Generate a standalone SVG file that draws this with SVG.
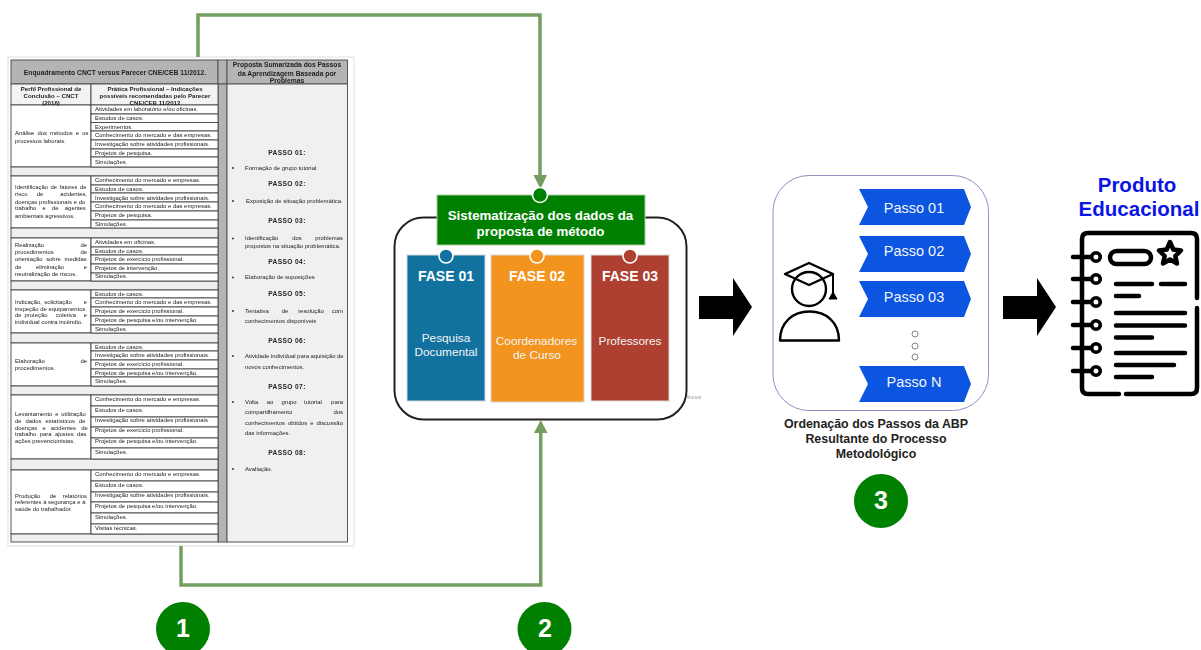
<svg xmlns="http://www.w3.org/2000/svg" width="1201" height="650" viewBox="0 0 1201 650">
<style>
text{font-family:"Liberation Sans",Arial,sans-serif}
.c{text-anchor:middle}.e{text-anchor:end}
.t{font-size:5.9px;fill:#222}
.tb{font-size:6.75px;font-weight:bold;fill:#222}
.sh{font-size:6.1px;font-weight:bold;fill:#222}
.ps{font-size:6.6px;font-weight:bold;fill:#222;letter-spacing:.4px;text-anchor:middle}
.r{font-size:5.95px;fill:#222}
.cell{fill:#fff;stroke:#444;stroke-width:.9}
.gap{fill:#efefef;stroke:#444;stroke-width:.9}
.hd{fill:#b4b4b4;stroke:#555;stroke-width:1}
.conn{fill:none;stroke:#739e5f;stroke-width:3.500}
.ah{fill:#739e5f}
.bk{fill:#000}
.num{fill:#008000}
.numt{fill:#fff;font-size:25px;font-weight:bold;text-anchor:middle}
.ph{stroke:#d8d8d8;stroke-width:1}
.pht{fill:#fff;font-size:14px;font-weight:bold;text-anchor:middle}
.phs{fill:#f4f4f4;font-size:11.8px;text-anchor:middle}
.dot{stroke:#fff;stroke-width:1.6}
.ch{fill:#0b55e0}
.cht{fill:#f4f6ff;font-size:14.500px;text-anchor:middle}
.ic{fill:none;stroke:#000;stroke-linecap:round;stroke-linejoin:round}
.cap{font-size:12.4px;font-weight:bold;fill:#222;text-anchor:middle}
.pr{font-size:20.5px;font-weight:bold;fill:#0a14e6;text-anchor:middle}
</style>
<defs>
<filter id="soft" x="-2%" y="-2%" width="104%" height="104%"><feGaussianBlur stdDeviation="0.55"/></filter>
<polygon id="blockarrow" points="0,18 34,18 34,0 53,29 34,58 34,41 0,41"/>
<polygon id="chev" points="0,0 105,0 112,18 105,36 0,36 9,18"/>
</defs>

<g id="table" filter="url(#soft)">
<rect x="8" y="57" width="346" height="489" fill="#fff" stroke="#ddd"/>
<rect class="hd" x="11" y="60" width="207" height="24"/>
<rect class="hd" x="218" y="60" width="9" height="24"/>
<rect class="hd" x="227" y="60" width="120.500" height="24"/>
<rect x="218" y="84" width="9" height="458" fill="#b4b4b4" stroke="#555"/>
<rect x="227" y="84" width="120.500" height="458" fill="#f0f0f0" stroke="#555"/>
<rect x="11" y="84" width="80" height="21" fill="#f3f3f3" stroke="#444" stroke-width=".9"/>
<rect x="91" y="84" width="127" height="21" fill="#f3f3f3" stroke="#444" stroke-width=".9"/>
<rect class="cell" x="11" y="105" width="80" height="62"/>
<rect class="gap" x="11" y="167" width="207" height="9"/>
<rect class="cell" x="11" y="176" width="80" height="52"/>
<rect class="gap" x="11" y="228" width="207" height="10"/>
<rect class="cell" x="11" y="238" width="80" height="43"/>
<rect class="gap" x="11" y="281" width="207" height="9"/>
<rect class="cell" x="11" y="290" width="80" height="43"/>
<rect class="gap" x="11" y="333" width="207" height="10"/>
<rect class="cell" x="11" y="343" width="80" height="43"/>
<rect class="gap" x="11" y="386" width="207" height="9"/>
<rect class="cell" x="11" y="395" width="80" height="64"/>
<rect class="gap" x="11" y="459" width="207" height="11"/>
<rect class="cell" x="11" y="470" width="80" height="64"/>
<rect class="gap" x="11" y="534" width="207" height="8"/>
<rect class="cell" x="91" y="105" width="127" height="9"/><rect class="cell" x="91" y="114" width="127" height="8.500"/><rect class="cell" x="91" y="122.500" width="127" height="8.500"/><rect class="cell" x="91" y="131" width="127" height="9"/><rect class="cell" x="91" y="140" width="127" height="9"/><rect class="cell" x="91" y="149" width="127" height="8"/><rect class="cell" x="91" y="157" width="127" height="10"/>
<rect class="cell" x="91" y="176" width="127" height="9"/><rect class="cell" x="91" y="185" width="127" height="8"/><rect class="cell" x="91" y="193" width="127" height="9"/><rect class="cell" x="91" y="202" width="127" height="9"/><rect class="cell" x="91" y="211" width="127" height="9"/><rect class="cell" x="91" y="220" width="127" height="8"/>
<rect class="cell" x="91" y="238" width="127" height="9"/><rect class="cell" x="91" y="247" width="127" height="8"/><rect class="cell" x="91" y="255" width="127" height="9"/><rect class="cell" x="91" y="264" width="127" height="9"/><rect class="cell" x="91" y="273" width="127" height="8"/>
<rect class="cell" x="91" y="290" width="127" height="8"/><rect class="cell" x="91" y="298" width="127" height="9"/><rect class="cell" x="91" y="307" width="127" height="9"/><rect class="cell" x="91" y="316" width="127" height="9"/><rect class="cell" x="91" y="325" width="127" height="8"/>
<rect class="cell" x="91" y="343" width="127" height="8"/><rect class="cell" x="91" y="351" width="127" height="9"/><rect class="cell" x="91" y="360" width="127" height="9"/><rect class="cell" x="91" y="369" width="127" height="8"/><rect class="cell" x="91" y="377" width="127" height="9"/>
<rect class="cell" x="91" y="395" width="127" height="11"/><rect class="cell" x="91" y="406" width="127" height="11"/><rect class="cell" x="91" y="417" width="127" height="10"/><rect class="cell" x="91" y="427" width="127" height="11"/><rect class="cell" x="91" y="438" width="127" height="10"/><rect class="cell" x="91" y="448" width="127" height="11"/>
<rect class="cell" x="91" y="470" width="127" height="11"/><rect class="cell" x="91" y="481" width="127" height="11"/><rect class="cell" x="91" y="492" width="127" height="10"/><rect class="cell" x="91" y="502" width="127" height="11"/><rect class="cell" x="91" y="513" width="127" height="11"/><rect class="cell" x="91" y="524" width="127" height="10"/>

<text class="tb c" x="115" y="75">Enquadramento CNCT versus Parecer CNE/CEB 11/2012.</text>
<text class="tb c" x="287" y="67">Proposta Sumarizada dos Passos</text>
<text class="tb c" x="287" y="75.500">da Aprendizagem Baseada por</text>
<text class="tb c" x="287" y="83">Problemas</text>
<text class="sh c" x="51" y="90.500">Perfil Profissional de</text>
<text class="sh c" x="51" y="97.500">Conclusão – CNCT</text>
<text class="sh c" x="51" y="104.500">(2016)</text>
<text class="sh c" x="155" y="90.500">Prática Profissional – Indicações</text>
<text class="sh c" x="155" y="97.500">possíveis recomendadas pelo Parecer</text>
<text class="sh c" x="155" y="104.500">CNE/CEB 11/2012</text>

<text class="t" x="15" y="135" word-spacing="1.500">Análise dos métodos e os</text>
<text class="t" x="15" y="142.500">processos laborais.</text>
<text class="t" x="15" y="189" word-spacing=".8">Identificação de fatores de</text>
<text class="t" x="15" y="196">risco</text><text class="t c" x="40" y="196">de</text><text class="t e" x="87" y="196">acidentes,</text>
<text class="t" x="15" y="203.500" word-spacing=".2">doenças profissionais e do</text>
<text class="t" x="15" y="210" word-spacing="4.600">trabalho e de agentes</text>
<text class="t" x="15" y="217.500">ambientais agressivos.</text>
<text class="t" x="15" y="247">Realização</text><text class="t e" x="87" y="247">de</text>
<text class="t" x="15" y="253.500">procedimentos</text><text class="t e" x="87" y="253.500">de</text>
<text class="t" x="15" y="261" word-spacing="2">orientação sobre medidas</text>
<text class="t" x="15" y="268.500">de</text><text class="t c" x="50" y="268.500">eliminação</text><text class="t e" x="87" y="268.500">e</text>
<text class="t" x="15" y="276">neutralização de riscos.</text>
<text class="t" x="15" y="303.500">Indicação,</text><text class="t c" x="58" y="303.500">solicitação</text><text class="t e" x="87" y="303.500">e</text>
<text class="t" x="15" y="310.500">inspeção de equipamentos</text>
<text class="t" x="15" y="317">de</text><text class="t c" x="36" y="317">proteção</text><text class="t c" x="66" y="317">coletiva</text><text class="t e" x="87" y="317">e</text>
<text class="t" x="15" y="324">individual contra incêndio.</text>
<text class="t" x="15" y="362.500">Elaboração</text><text class="t e" x="87" y="362.500">de</text>
<text class="t" x="15" y="369.500">procedimentos.</text>
<text class="t" x="15" y="416" word-spacing="1.200">Levantamento e utilização</text>
<text class="t" x="15" y="422.500" word-spacing="2.300">de dados estatísticos de</text>
<text class="t" x="15" y="429.500" word-spacing="3.500">doenças e acidentes de</text>
<text class="t" x="15" y="436" word-spacing="1.800">trabalho para ajustes das</text>
<text class="t" x="15" y="443">ações prevencionistas.</text>
<text class="t" x="15" y="497.500">Produção</text><text class="t c" x="53" y="497.500">de</text><text class="t e" x="87" y="497.500">relatórios</text>
<text class="t" x="15" y="504">referentes à segurança e à</text>
<text class="t" x="15" y="511">saúde do trabalhador.</text>

<text class="r" x="95" y="111" textLength="103">Atividades em laboratório e/ou oficinas.</text>
<text class="r" x="95" y="120">Estudos de casos.</text>
<text class="r" x="95" y="128.500">Experimentos.</text>
<text class="r" x="95" y="137">Conhecimento do mercado e das empresas.</text>
<text class="r" x="95" y="146">Investigação sobre atividades profissionais.</text>
<text class="r" x="95" y="155">Projetos de pesquisa.</text>
<text class="r" x="95" y="163.500">Simulações.</text>
<text class="r" x="95" y="182">Conhecimento do mercado e empresas.</text>
<text class="r" x="95" y="191">Estudos de casos.</text>
<text class="r" x="95" y="199.500">Investigação sobre atividades profissionais.</text>
<text class="r" x="95" y="208">Conhecimento do mercado e das empresas.</text>
<text class="r" x="95" y="216.500">Projetos de pesquisa.</text>
<text class="r" x="95" y="225.500">Simulações.</text>
<text class="r" x="95" y="243.500">Atividades em oficinas.</text>
<text class="r" x="95" y="252.500">Estudos de casos.</text>
<text class="r" x="95" y="261">Projetos de exercício profissional.</text>
<text class="r" x="95" y="269.500">Projetos de intervenção.</text>
<text class="r" x="95" y="278">Simulações.</text>
<text class="r" x="95" y="295.500">Estudos de casos.</text>
<text class="r" x="95" y="304">Conhecimento do mercado e das empresas.</text>
<text class="r" x="95" y="313">Projetos de exercício profissional.</text>
<text class="r" x="95" y="322">Projetos de pesquisa e/ou intervenção.</text>
<text class="r" x="95" y="330.500">Simulações.</text>
<text class="r" x="95" y="348.500">Estudos de casos.</text>
<text class="r" x="95" y="357">Investigação sobre atividades profissionais.</text>
<text class="r" x="95" y="366">Projetos de exercício profissional.</text>
<text class="r" x="95" y="375">Projetos de pesquisa e/ou intervenção.</text>
<text class="r" x="95" y="383">Simulações.</text>
<text class="r" x="95" y="400.500">Conhecimento do mercado e empresas.</text>
<text class="r" x="95" y="411.500">Estudos de casos.</text>
<text class="r" x="95" y="422">Investigação sobre atividades profissionais</text>
<text class="r" x="95" y="432">Projetos de exercício profissional.</text>
<text class="r" x="95" y="443">Projetos de pesquisa e/ou intervenção.</text>
<text class="r" x="95" y="453.500">Simulações.</text>
<text class="r" x="95" y="475.500">Conhecimento do mercado e empresas.</text>
<text class="r" x="95" y="486.500">Estudos de casos.</text>
<text class="r" x="95" y="497">Investigação sobre atividades profissionais.</text>
<text class="r" x="95" y="508">Projetos de pesquisa e/ou intervenção.</text>
<text class="r" x="95" y="519">Simulações.</text>
<text class="r" x="95" y="529.500">Visitas técnicas.</text>

<text class="ps" x="287" y="155">PASSO 01:</text>
<text class="ps" x="287" y="186">PASSO 02:</text>
<text class="ps" x="287" y="222.500">PASSO 03:</text>
<text class="ps" x="287" y="264">PASSO 04:</text>
<text class="ps" x="287" y="296">PASSO 05:</text>
<text class="ps" x="287" y="342.500">PASSO 06:</text>
<text class="ps" x="287" y="388.500">PASSO 07:</text>
<text class="ps" x="287" y="455">PASSO 08:</text>
<g fill="#222"><circle cx="233" cy="168" r=".9"/><circle cx="233" cy="201" r=".9"/><circle cx="233" cy="238.500" r=".9"/><circle cx="233" cy="277.500" r=".9"/><circle cx="233" cy="311" r=".9"/><circle cx="233" cy="356" r=".9"/><circle cx="233" cy="402" r=".9"/><circle cx="233" cy="469" r=".9"/></g>
<text class="r" x="245" y="169.500">Formação de grupo tutorial.</text>
<text class="r" x="246" y="202.500">Exposição de situação problemática.</text>
<text class="r" x="245" y="240">Identificação</text><text class="r c" x="297" y="240">dos</text><text class="r e" x="343" y="240">problemas</text>
<text class="r" x="245" y="248">propostos na situação problemática.</text>
<text class="r" x="245" y="279">Elaboração de suposições</text>
<text class="r" x="245" y="312.500">Tentativa</text><text class="r c" x="285" y="312.500">de</text><text class="r c" x="311" y="312.500">resolução</text><text class="r e" x="343" y="312.500">com</text>
<text class="r" x="245" y="322.500">conhecimentos disponíveis</text>
<text class="r" x="245" y="357.500" word-spacing="-.2">Atividade individual para aquisição de</text>
<text class="r" x="245" y="368.500">novos conhecimentos.</text>
<text class="r" x="245" y="403.500">Volta</text><text class="r c" x="270" y="403.500">ao</text><text class="r c" x="289" y="403.500">grupo</text><text class="r c" x="313" y="403.500">tutorial</text><text class="r e" x="343" y="403.500">para</text>
<text class="r" x="245" y="414">compartilhamento</text><text class="r e" x="343" y="414">dos</text>
<text class="r" x="245" y="424.500" word-spacing="1.400">conhecimentos obtidos e discussão</text>
<text class="r" x="245" y="435">das informações.</text>
<text class="r" x="245" y="471">Avaliação.</text>
</g>

<g id="badge-1"><circle class="num" cx="183" cy="629" r="27"/><text class="numt" x="183" y="637">1</text></g>
<g id="badge-2"><circle class="num" cx="544.500" cy="629" r="27"/><text class="numt" x="545" y="637">2</text></g>
<g id="badge-3"><circle class="num" cx="881" cy="501" r="27"/><text class="numt" x="881" y="509">3</text></g>

<g id="method-panel"><rect x="394.500" y="217.500" width="292" height="202" rx="29" fill="#fff" stroke="#222" stroke-width="2"/>
<text x="686" y="399" font-size="5" fill="#999" filter="url(#soft)">Alunos</text></g>

<g id="connectors">
<path class="conn" d="M198 57V15H540V176"/>
<polygon class="ah" points="533.500,175 547,175 540.500,189"/>
<path class="conn" d="M181 546V585H540.700V432"/>
<polygon class="ah" points="534,433 547.500,433 540.700,420"/>
</g>

<g id="title-node"><rect x="437" y="195" width="208" height="50" fill="#008000" stroke="#a9c9a4"/>
<circle class="dot" cx="540" cy="195" r="7.500" fill="#008000"/>
<text x="540.500" y="219.500" fill="#fff" font-size="13.300" font-weight="bold" text-anchor="middle">Sistematização dos dados da</text>
<text x="540.500" y="235.500" fill="#fff" font-size="13.300" font-weight="bold" text-anchor="middle">proposta de método</text></g>
<g id="fase-01"><rect class="ph" x="407" y="255" width="78" height="146" fill="#11729f"/><circle class="dot" cx="446" cy="256" r="7" fill="#11729f"/><text class="pht" x="446" y="281">FASE 01</text><text class="phs" x="446" y="342">Pesquisa</text><text class="phs" x="446" y="356">Documental</text></g>
<g id="fase-02"><rect class="ph" x="491" y="255" width="93" height="147" fill="#f2941e"/><circle class="dot" cx="537" cy="256" r="7" fill="#f2941e"/><text class="pht" x="537" y="281">FASE 02</text><text class="phs" x="536.500" y="345">Coordenadores</text><text class="phs" x="537" y="359">de Curso</text></g>
<g id="fase-03"><rect class="ph" x="591" y="255" width="78" height="146" fill="#ad4030"/><circle class="dot" cx="630" cy="256" r="7" fill="#ad4030"/><text class="pht" x="630" y="281">FASE 03</text><text class="phs" x="630" y="345">Professores</text></g>

<g id="arrow-a"><use class="bk" href="#blockarrow" x="699" y="278"/></g>
<g id="arrow-b"><use class="bk" href="#blockarrow" x="1003" y="278"/></g>

<g id="steps-panel"><rect x="773" y="175.500" width="215.500" height="235" rx="36" fill="#fff" stroke="#8f8fc4"/></g>
<g id="student">
<circle class="ic" cx="809" cy="289" r="17" stroke-width="2.400" fill="#fff"/>
<polygon class="ic" points="785,274 809,263 833,274 809,285" stroke-width="2.400" fill="#fff"/>
<path class="ic" d="M833 274V295" stroke-width="2"/>
<polygon points="829,299 833,292 837,299" stroke="#000" stroke-width="1"/>
<path class="ic" d="M780 340.500C780 322 793 311.500 809.500 311.500S839 322 839 340.500Z" stroke-width="2.400"/>
</g>
<g id="passo-01"><use class="ch" href="#chev" x="859" y="189"/><text class="cht" x="914" y="213">Passo 01</text></g>
<g id="passo-02"><use class="ch" href="#chev" x="859" y="236"/><text class="cht" x="914" y="256">Passo 02</text></g>
<g id="passo-03"><use class="ch" href="#chev" x="859" y="281"/><text class="cht" x="914" y="302">Passo 03</text></g>
<g id="ellipsis" fill="#fff" stroke="#777" stroke-width=".9"><circle cx="915" cy="334" r="3"/><circle cx="915" cy="346" r="3"/><circle cx="915" cy="357" r="3"/></g>
<g id="passo-n"><use class="ch" href="#chev" x="859" y="366"/><text class="cht" x="914" y="387">Passo N</text></g>
<g id="steps-caption"><text class="cap" x="876" y="428">Ordenação dos Passos da ABP</text><text class="cap" x="876" y="443">Resultante do Processo</text><text class="cap" x="876" y="458">Metodológico</text></g>

<g id="product"><text class="pr" x="1137" y="192">Produto</text><text class="pr" x="1139" y="216">Educacional</text>
<g class="ic" stroke-width="4.500">
<path d="M1119 394H1088Q1082 394 1082 388V239Q1082 233 1088 233H1191Q1197 233 1197 239V298"/>
<path d="M1197 308V388Q1197 394 1191 394H1126"/>
<path d="M1073 257H1091M1073 279H1091M1073 302H1091M1073 325H1091M1073 348H1091M1073 371H1091"/>
<g stroke-width="3.600"><circle cx="1096" cy="257" r="4.300" fill="#fff"/><circle cx="1096" cy="279" r="4.300" fill="#fff"/><circle cx="1096" cy="302" r="4.300" fill="#fff"/><circle cx="1096" cy="325" r="4.300" fill="#fff"/><circle cx="1096" cy="348" r="4.300" fill="#fff"/><circle cx="1096" cy="371" r="4.300" fill="#fff"/></g>
<rect x="1110" y="251" width="41" height="13" rx="6.500"/>
<polygon points="1170,242 1173.300,249.500 1181,250.500 1175.300,256 1177,263.500 1170,259.500 1163,263.500 1164.700,256 1159,250.500 1166.700,249.500"/>
<path d="M1116 284H1152M1161 284H1185M1116 296H1139M1116 313H1185M1116 325.500H1185M1116 337.500H1152M1116 353H1185M1116 365H1174M1116 377H1152"/>
</g></g>
</svg>
